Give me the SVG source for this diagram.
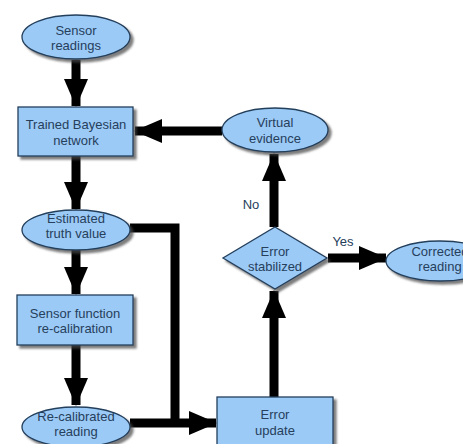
<svg xmlns="http://www.w3.org/2000/svg" width="463" height="444" viewBox="0 0 463 444">
<style>
.n{fill:#9ccaf6;stroke:#233f5c;stroke-width:1.3;filter:url(#sh)}
.t{font-family:"Liberation Sans",Arial,sans-serif;font-size:13px;fill:#26405c;text-anchor:middle}
.c{fill:none;stroke:#000;stroke-width:9;marker-end:url(#ah)}
.l{fill:none;stroke:#000;stroke-width:9}
</style>
<defs>
<filter id="sh" x="-20%" y="-20%" width="140%" height="150%">
<feDropShadow dx="3" dy="3" stdDeviation="1.2" flood-color="#444" flood-opacity="0.7"/>
</filter>
<marker id="ah" markerUnits="userSpaceOnUse" markerWidth="28" markerHeight="24" refX="27" refY="12" orient="auto">
<path d="M0,0 L28,12 L0,24 z" fill="#000"/>
</marker>
</defs>
<rect width="463" height="444" fill="#fff"/>
<g id="connectors">
<path class="c" d="M76,60 V106"/>
<path class="c" d="M76,156 V209"/>
<path class="c" d="M76,250 V294"/>
<path class="c" d="M76,345 V405"/>
<path class="l" d="M130,228 H175 V423"/>
<path class="c" d="M130,423 H216"/>
<path class="c" d="M274,397 V291"/>
<path class="c" d="M274,227 V154"/>
<path class="c" d="M222,131 H135"/>
<path class="c" d="M328,258 H386"/>
<text class="t" x="251" y="209">No</text>
<text class="t" x="343" y="246">Yes</text>
</g>
<g id="sensor_readings">
<ellipse class="n" cx="76" cy="37" rx="54" ry="22"/>
<text class="t" x="76" y="35">Sensor</text>
<text class="t" x="76" y="50">readings</text>
</g>
<g id="trained_bayesian_network">
<rect class="n" x="18" y="107" width="115" height="49"/>
<text class="t" x="76" y="129">Trained Bayesian</text>
<text class="t" x="76" y="145">network</text>
</g>
<g id="estimated_truth_value">
<ellipse class="n" cx="76" cy="230" rx="54" ry="20"/>
<text class="t" x="76" y="223">Estimated</text>
<text class="t" x="76" y="238">truth value</text>
</g>
<g id="sensor_function_recalibration">
<rect class="n" x="17" y="295" width="116" height="50"/>
<text class="t" x="75" y="318">Sensor function</text>
<text class="t" x="75" y="333">re-calibration</text>
</g>
<g id="recalibrated_reading">
<ellipse class="n" cx="76" cy="427" rx="54" ry="20"/>
<text class="t" x="76" y="421">Re-calibrated</text>
<text class="t" x="76" y="436">reading</text>
</g>
<g id="error_update">
<rect class="n" x="217" y="397" width="116" height="52"/>
<text class="t" x="275" y="419">Error</text>
<text class="t" x="275" y="435">update</text>
</g>
<g id="error_stabilized">
<polygon class="n" points="275,227 327,258 275,289 223,258"/>
<text class="t" x="275" y="256">Error</text>
<text class="t" x="275" y="271">stabilized</text>
</g>
<g id="virtual_evidence">
<ellipse class="n" cx="275" cy="130" rx="53" ry="22"/>
<text class="t" x="275" y="127">Virtual</text>
<text class="t" x="275" y="143">evidence</text>
</g>
<g id="corrected_reading">
<ellipse class="n" cx="440" cy="261" rx="54" ry="20"/>
<text class="t" x="440" y="256">Corrected</text>
<text class="t" x="440" y="271">reading</text>
</g>
</svg>
